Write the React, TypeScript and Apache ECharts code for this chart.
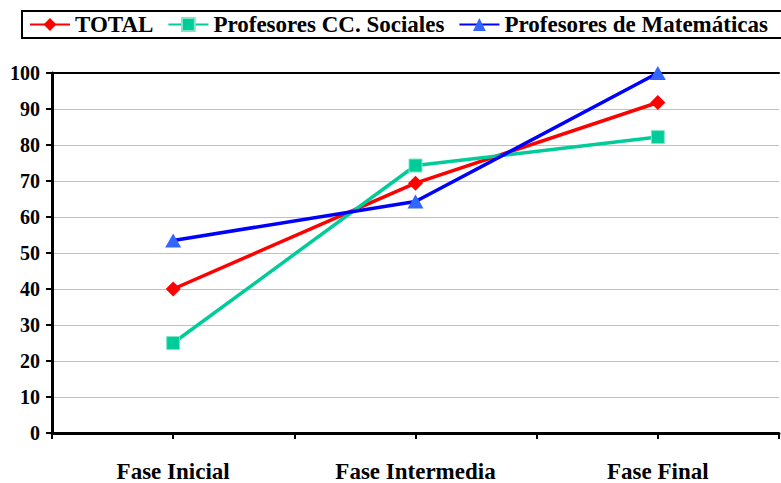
import React, { useEffect, useRef } from "react";
import * as echarts from "echarts";

const categories = ["Fase Inicial", "Fase Intermedia", "Fase Final"];
const totalValues = [40, 69.4, 91.8];
const socialesValues = [25, 74.3, 82.2];
const matematicasValues = [53.5, 64.3, 100];
const seriesNames = ["TOTAL", "Profesores CC. Sociales", "Profesores de Matemáticas"];
const tickSlots = ["a", "b", "c", "d", "e", "f"];

const FONT = "Liberation Serif";

export default function App() {
  const ref = useRef<HTMLDivElement>(null);
  useEffect(() => {
    if (!ref.current) return;
    const chart = echarts.init(ref.current, undefined, { renderer: "svg" });
    chart.setOption({
      animation: false,
      backgroundColor: "#ffffff",
      textStyle: { fontFamily: FONT },
      grid: { left: 52, right: 2, top: 73, bottom: 48 },
      graphic: [
        {
          type: "rect",
          shape: { x: 22, y: 11, width: 800, height: 27 },
          style: { fill: "rgba(0,0,0,0)", stroke: "#000", lineWidth: 2 },
          z: 100,
        },
      ],
      legend: {
        left: 29,
        top: 13,
        itemWidth: 40,
        itemHeight: 16,
        itemGap: 14,
        padding: 0,
        textStyle: { fontFamily: FONT, fontWeight: "bold", fontSize: 23, color: "#000" },
        data: seriesNames,
      },
      xAxis: [
        {
          type: "category",
          data: categories,
          boundaryGap: true,
          axisLine: { show: true, lineStyle: { color: "#000", width: 3 } },
          axisTick: { show: false },
          axisLabel: {
            margin: 27,
            fontFamily: FONT,
            fontWeight: "bold",
            fontSize: 23,
            color: "#000",
          },
          splitLine: { show: false },
        },
        {
          type: "category",
          data: tickSlots,
          position: "top",
          boundaryGap: true,
          axisLine: { show: true, lineStyle: { color: "#000", width: 2 } },
          axisTick: { show: false },
          axisLabel: { show: false },
          splitLine: { show: false },
        },
        {
          type: "category",
          data: tickSlots,
          position: "bottom",
          boundaryGap: true,
          axisLine: { show: false },
          axisTick: { show: true, length: 6, lineStyle: { color: "#000", width: 2 } },
          axisLabel: { show: false },
          splitLine: { show: false },
        },
      ],
      yAxis: {
        type: "value",
        min: 0,
        max: 100,
        interval: 10,
        axisLine: { show: true, lineStyle: { color: "#000", width: 3 } },
        axisTick: { show: true, length: 6, lineStyle: { color: "#000", width: 2 } },
        axisLabel: {
          margin: 12,
          fontFamily: FONT,
          fontWeight: "bold",
          fontSize: 20,
          color: "#000",
        },
        splitLine: { show: true, lineStyle: { color: "#c0c0c0", width: 1 } },
      },
      series: [
        {
          name: seriesNames[0],
          type: "line",
          data: totalValues,
          symbol: "diamond",
          symbolSize: [15, 15],
          lineStyle: { color: "#ff0000", width: 3.5 },
          itemStyle: { color: "#ff0000" },
        },
        {
          name: seriesNames[1],
          type: "line",
          data: socialesValues,
          symbol: "rect",
          symbolSize: [13, 13],
          lineStyle: { color: "#00cc99", width: 3.5 },
          itemStyle: { color: "#00cc99", borderColor: "#7fe6c8", borderWidth: 1 },
        },
        {
          name: seriesNames[2],
          type: "line",
          data: matematicasValues,
          symbol: "triangle",
          symbolSize: [16, 14],
          lineStyle: { color: "#0000ff", width: 3.5 },
          itemStyle: { color: "#3366ff" },
        },
      ],
    });
    return () => chart.dispose();
  }, []);
  return (
    <div
      ref={ref}
      style={{ position: "fixed", left: 0, top: 0, width: 781, height: 483, background: "#fff" }}
    />
  );
}
